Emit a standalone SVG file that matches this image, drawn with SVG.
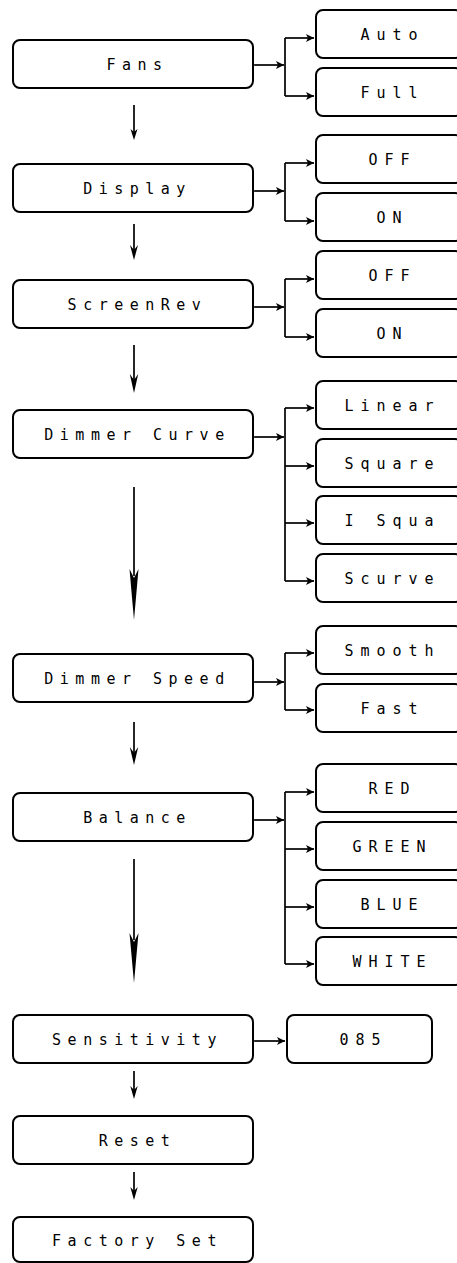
<svg xmlns="http://www.w3.org/2000/svg" width="457" height="1263" viewBox="0 0 457 1263">
  <defs>
    <style>
      .box { fill: #fff; stroke: #000; stroke-width: 2; }
      .lbl { font-family: "DejaVu Sans Mono", "Liberation Mono", monospace; font-size: 15px; letter-spacing: 6.5px; fill: #000; text-anchor: middle; }
      .opt { letter-spacing: 7px; }
      .wire { fill: none; stroke: #000; stroke-width: 1.7; }
      .head { fill: #000; stroke: none; }
    </style>
    <marker id="tip" markerUnits="userSpaceOnUse" markerWidth="12" markerHeight="12" viewBox="-10 -6 12 12" refX="0" refY="0" orient="auto">
      <path d="M0,0 L-8,-4 L-6,0 L-8,4 Z" fill="#000"/>
    </marker>
  </defs>
  <rect width="457" height="1263" fill="#fff"/>

  <!-- main menu column -->
  <g id="fans"><rect class="box" x="13" y="40" width="240" height="48" rx="7"/><text class="lbl" x="137.5" y="69.5">Fans</text></g>
  <g id="display"><rect class="box" x="13" y="164" width="240" height="48" rx="7"/><text class="lbl" x="137.5" y="193.5">Display</text></g>
  <g id="screenrev"><rect class="box" x="13" y="280" width="240" height="48" rx="7"/><text class="lbl" x="137.5" y="309.5">ScreenRev</text></g>
  <g id="dimmer-curve"><rect class="box" x="13" y="410" width="240" height="48" rx="7"/><text class="lbl" x="137.5" y="439.5">Dimmer Curve</text></g>
  <g id="dimmer-speed"><rect class="box" x="13" y="654" width="240" height="48" rx="7"/><text class="lbl" x="137.5" y="683.5">Dimmer Speed</text></g>
  <g id="balance"><rect class="box" x="13" y="793" width="240" height="48" rx="7"/><text class="lbl" x="137.5" y="822.5">Balance</text></g>
  <g id="sensitivity"><rect class="box" x="13" y="1015" width="240" height="48" rx="7"/><text class="lbl" x="137.5" y="1044.5">Sensitivity</text></g>
  <g id="reset"><rect class="box" x="13" y="1116" width="240" height="48" rx="7"/><text class="lbl" x="137.5" y="1145.5">Reset</text></g>
  <g id="factory-set"><rect class="box" x="13" y="1217" width="240" height="45" rx="7"/><text class="lbl" x="137.5" y="1246">Factory Set</text></g>

  <!-- option boxes -->
  <g id="fans-auto"><rect class="box" x="316" y="10" width="146" height="48" rx="7"/><text class="lbl opt" x="392.5" y="39.5">Auto</text></g>
  <g id="fans-full"><rect class="box" x="316" y="68" width="146" height="48" rx="7"/><text class="lbl opt" x="392.5" y="97.5">Full</text></g>
  <g id="display-off"><rect class="box" x="316" y="135" width="146" height="48" rx="7"/><text class="lbl opt" x="392.5" y="164.5">OFF</text></g>
  <g id="display-on"><rect class="box" x="316" y="193" width="146" height="48" rx="7"/><text class="lbl opt" x="392.5" y="222.5">ON</text></g>
  <g id="screenrev-off"><rect class="box" x="316" y="251" width="146" height="48" rx="7"/><text class="lbl opt" x="392.5" y="280.5">OFF</text></g>
  <g id="screenrev-on"><rect class="box" x="316" y="309" width="146" height="48" rx="7"/><text class="lbl opt" x="392.5" y="338.5">ON</text></g>
  <g id="curve-linear"><rect class="box" x="316" y="381" width="146" height="48" rx="7"/><text class="lbl opt" x="392.5" y="410.5">Linear</text></g>
  <g id="curve-square"><rect class="box" x="316" y="439" width="146" height="48" rx="7"/><text class="lbl opt" x="392.5" y="468.5">Square</text></g>
  <g id="curve-isqua"><rect class="box" x="316" y="496" width="146" height="48" rx="7"/><text class="lbl opt" x="392.5" y="525.5">I Squa</text></g>
  <g id="curve-scurve"><rect class="box" x="316" y="554" width="146" height="48" rx="7"/><text class="lbl opt" x="392.5" y="583.5">Scurve</text></g>
  <g id="speed-smooth"><rect class="box" x="316" y="626" width="146" height="48" rx="7"/><text class="lbl opt" x="392.5" y="655.5">Smooth</text></g>
  <g id="speed-fast"><rect class="box" x="316" y="684" width="146" height="48" rx="7"/><text class="lbl opt" x="392.5" y="713.5">Fast</text></g>
  <g id="balance-red"><rect class="box" x="316" y="764" width="146" height="48" rx="7"/><text class="lbl opt" x="392.5" y="793.5">RED</text></g>
  <g id="balance-green"><rect class="box" x="316" y="822" width="146" height="48" rx="7"/><text class="lbl opt" x="392.5" y="851.5">GREEN</text></g>
  <g id="balance-blue"><rect class="box" x="316" y="880" width="146" height="48" rx="7"/><text class="lbl opt" x="392.5" y="909.5">BLUE</text></g>
  <g id="balance-white"><rect class="box" x="316" y="937" width="146" height="48" rx="7"/><text class="lbl opt" x="392.5" y="966.5">WHITE</text></g>
  <g id="sensitivity-value"><rect class="box" x="287" y="1015" width="145" height="48" rx="7"/><text class="lbl opt" x="363.5" y="1044.5">085</text></g>

  <!-- connectors -->
  <g id="connectors">
    <!-- menu to option branches -->
    <path class="wire" d="M254,65 H284" marker-end="url(#tip)"/>
    <path class="wire" d="M285,38 V96"/>
    <path class="wire" d="M285,38 H314" marker-end="url(#tip)"/>
    <path class="wire" d="M285,96 H314" marker-end="url(#tip)"/>

    <path class="wire" d="M254,191 H284" marker-end="url(#tip)"/>
    <path class="wire" d="M285,163 V221"/>
    <path class="wire" d="M285,163 H314" marker-end="url(#tip)"/>
    <path class="wire" d="M285,221 H314" marker-end="url(#tip)"/>

    <path class="wire" d="M254,307 H284" marker-end="url(#tip)"/>
    <path class="wire" d="M285,279 V337"/>
    <path class="wire" d="M285,279 H314" marker-end="url(#tip)"/>
    <path class="wire" d="M285,337 H314" marker-end="url(#tip)"/>

    <path class="wire" d="M254,437 H284" marker-end="url(#tip)"/>
    <path class="wire" d="M285,408 V581"/>
    <path class="wire" d="M285,408 H314" marker-end="url(#tip)"/>
    <path class="wire" d="M285,466 H314" marker-end="url(#tip)"/>
    <path class="wire" d="M285,523 H314" marker-end="url(#tip)"/>
    <path class="wire" d="M285,581 H314" marker-end="url(#tip)"/>

    <path class="wire" d="M254,682 H284" marker-end="url(#tip)"/>
    <path class="wire" d="M285,653 V710"/>
    <path class="wire" d="M285,653 H314" marker-end="url(#tip)"/>
    <path class="wire" d="M285,710 H314" marker-end="url(#tip)"/>

    <path class="wire" d="M254,820 H284" marker-end="url(#tip)"/>
    <path class="wire" d="M285,792 V964"/>
    <path class="wire" d="M285,792 H314" marker-end="url(#tip)"/>
    <path class="wire" d="M285,849 H314" marker-end="url(#tip)"/>
    <path class="wire" d="M285,907 H314" marker-end="url(#tip)"/>
    <path class="wire" d="M285,964 H314" marker-end="url(#tip)"/>

    <path class="wire" d="M254,1041 H285" marker-end="url(#tip)"/>

    <!-- menu to menu -->
    <path class="wire" d="M134,105 V134"/>
    <path class="head" d="M134,140 L130.5,129 L134,132 L137.5,129 Z"/>

    <path class="wire" d="M134,224 V252"/>
    <path class="head" d="M134,260 L130,245 L134,250 L138,245 Z"/>

    <path class="wire" d="M134,345 V382"/>
    <path class="head" d="M134,393 L129.8,374 L134,380 L138.2,374 Z"/>

    <path class="wire" d="M134,487 V576"/>
    <path class="head" d="M134,620 Q131.5,592 129.5,569 L134,578 L138.5,569 Q136.5,592 134,620 Z"/>

    <path class="wire" d="M134,722 V755"/>
    <path class="head" d="M134,765 L129.8,747 L134,753 L138.2,747 Z"/>

    <path class="wire" d="M134,859 V940"/>
    <path class="head" d="M134,983 Q131.5,955 129.5,933 L134,942 L138.5,933 Q136.5,955 134,983 Z"/>

    <path class="wire" d="M134,1071 V1092"/>
    <path class="head" d="M134,1099 L130.3,1086 L134,1090 L137.7,1086 Z"/>

    <path class="wire" d="M134,1172 V1193"/>
    <path class="head" d="M134,1200 L130.3,1187 L134,1191 L137.7,1187 Z"/>
  </g>
</svg>
